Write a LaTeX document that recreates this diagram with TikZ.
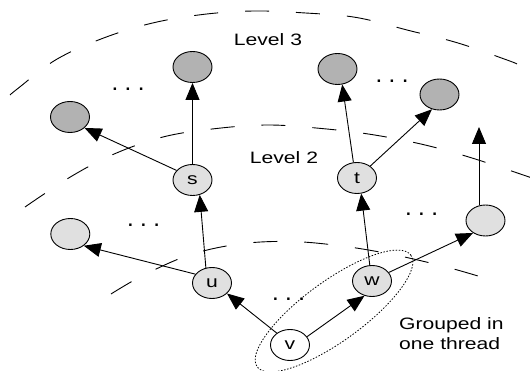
\documentclass[tikz,border=0pt]{standalone}
\usepackage{fontspec}
\usepackage{graphicx}
\setmainfont{Liberation Sans}
\usetikzlibrary{shapes.geometric,arrows.meta}
\definecolor{darkg}{RGB}{178,178,178}
\definecolor{lightg}{RGB}{224,224,224}
\newcommand{\hst}[1]{\scalebox{1.28}[1]{#1}}
\newcommand{\dotrow}{.\kern8.4pt.\kern8.4pt.}
\begin{document}
\begin{tikzpicture}[x=1pt,y=-1pt,
  nodeshape/.style={ellipse,draw=black,line width=0.9pt,minimum width=39pt,minimum height=31pt,inner sep=0pt,font=\fontsize{16.5}{20}\selectfont},
  darknode/.style={nodeshape,fill=darkg},
  lightnode/.style={nodeshape,fill=lightg},
  whitenode/.style={nodeshape,fill=white},
  arr/.style={line width=0.9pt,-{Triangle[length=17pt,width=14pt]}},
  levelarc/.style={line width=0.9pt,dash pattern=on 24pt off 27pt},
  groupline/.style={line width=0.8pt,dash pattern=on 1.5pt off 1.6pt},
  lbl/.style={inner sep=0pt,font=\fontsize{16.5}{20}\selectfont},
  dotlbl/.style={inner sep=0pt,font=\fontsize{17}{20}\selectfont\bfseries}
]
\useasboundingbox (0,0) rectangle (530,371);

% level boundaries
\draw[levelarc] plot[smooth,tension=0.6] coordinates {(10,95) (18.5,88) (55.5,60) (101,39) (150.5,23.5) (202.5,14.5) (254,11) (305.5,13) (356.5,17.5) (409,30.5) (458,43) (507,60) (517,64)};
\draw[levelarc] plot[smooth,tension=0.6] coordinates {(25,207) (72,176) (116.5,153) (165,136.5) (216.5,128.5) (268.5,125) (321.5,128.5) (371.5,134.5) (423,144.5) (472,158) (532,178)};
\draw[levelarc] plot[smooth,tension=0.6] coordinates {(111,294) (143,275.5) (189.5,255) (239.5,244) (290.5,241.5) (342,246) (392.5,254.5) (442.5,266) (478,276)};

% thread grouping
\draw[groupline,rotate around={36:(334,311)}] (334,311) ellipse [x radius=95, y radius=30];

% labels
\node[lbl,anchor=base] (lev3) at (268,45.5) {\hst{Level 3}};
\node[lbl,anchor=base] (lev2) at (284,164) {\hst{Level 2}};
\node[lbl,anchor=north west] (grp) at (399,315) {\hst{\begin{tabular}{@{}l@{}}Grouped in\\one thread\end{tabular}}};

% dots
\node[dotlbl] (dA) at (128,89) {\dotrow};
\node[dotlbl] (dB) at (392,81) {\dotrow};
\node[dotlbl] (dC) at (143.5,225.5) {\dotrow};
\node[dotlbl] (dD) at (421.5,214) {\dotrow};
\node[dotlbl] (dE) at (288.5,299) {\dotrow};

% nodes
\node[whitenode] (v) at (290,345) {\hst{v}};
\node[lightnode] (u) at (212,283) {\hst{u}};
\node[lightnode] (w) at (372,281) {\hst{w}};
\node[lightnode] (s) at (192.5,180) {\hst{s}};
\node[lightnode] (t) at (357,178) {\hst{t}};
\node[lightnode] (lL) at (70.3,234) {};
\node[lightnode] (rL) at (485.5,220.5) {};
\node[darknode] (d1) at (70,117) {};
\node[darknode] (d2) at (192.5,67) {};
\node[darknode] (d3) at (337.5,69) {};
\node[darknode] (d4) at (439.5,94.5) {};
\coordinate (rtop) at (479,127);

% edges
\draw[arr] (v.138) -- (u.-35);
\draw[arr] (v.26) -- (w.-117);
\draw[arr] (u.152) -- (lL.-41);
\draw[arr] (u.112) -- (s.-64);
\draw[arr] (w.98) -- (t.-75);
\draw[arr] (w.27) -- (rL.-135);
\draw[arr] (rL.north -| rtop) -- (rtop);
\draw[arr] (s.149) -- (d1.-37);
\draw[arr] (s) -- (d2);
\draw[arr] (t.103) -- (d3.-73);
\draw[arr] (t.42) -- (d4.-117);
\end{tikzpicture}
\end{document}
